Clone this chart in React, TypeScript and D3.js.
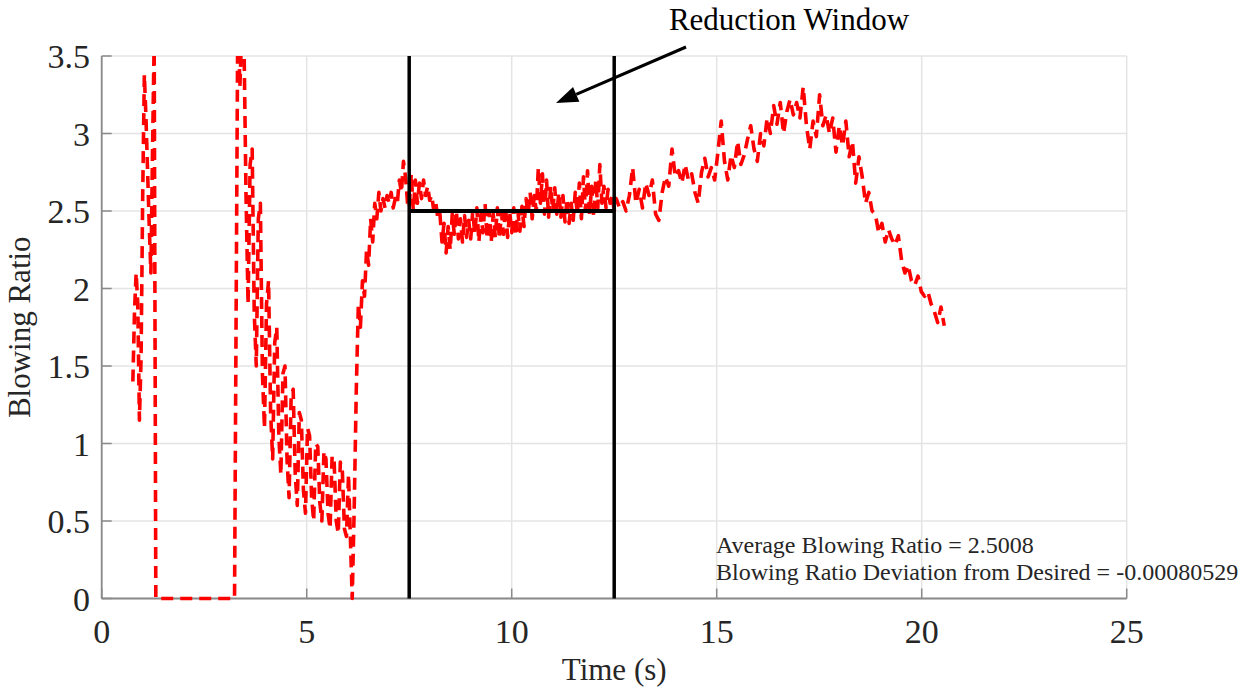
import React from 'react';
import * as d3 from 'd3';

// ---------- data ----------
const X_TICKS = [0, 5, 10, 15, 20, 25];
const Y_TICKS = [0, 0.5, 1, 1.5, 2, 2.5, 3, 3.5];
const Y_TICK_LABELS = ['0', '0.5', '1', '1.5', '2', '2.5', '3', '3.5'];

// segment A: first burst
const A_START = 0.76;
const A_STEP = 0.04;
const A_VALUES = [1.4, 1.85, 2.1, 1.9, 1.15, 1.55, 2.6, 3.38, 3.1, 2.75, 2.4, 2.1, 2.9, 3.6];

// segment Z: blowing off
const Z_START = 1.32;
const Z_STEP = 0.16;
const Z_VALUES = [0, 0, 0, 0, 0, 0, 0, 0, 0, 0, 0, 0, 0];

// segment B: second burst and decay
const B_START = 3.32;
const B_STEP = 0.05;
const B_VALUES = [
  3.8, 3.3, 3.7, 3.6, 2.6, 1.9, 2.8, 2.9, 1.85, 1.5, 2.45, 2.55, 1.45, 1.1, 1.9, 2.05,
  1.2, 0.9, 1.65, 1.75, 1.05, 0.8, 1.45, 1.5, 0.9, 0.65, 1.3, 1.35, 0.8, 0.6, 1.2, 1.15,
  0.7, 0.55, 1.1, 1.05, 0.65, 0.5, 1.0, 0.98, 0.62, 0.5, 0.95, 0.9, 0.55, 0.45, 0.92, 0.88,
  0.5, 0.42, 0.88, 0.82, 0.45, 0.4, 0.8, 0.35,
];

// segment C: recovery
const C_START = 6.11;
const C_STEP = 0.05;
const C_VALUES = [
  0, 0.6, 1.35, 1.9, 1.75, 2.05, 1.95, 2.25, 2.15, 2.45, 2.3, 2.55, 2.45, 2.62, 2.5, 2.58,
  2.52, 2.6, 2.55, 2.62, 2.52, 2.58, 2.55, 2.7, 2.62, 2.82, 2.72, 2.55,
];

// segment D: reduction window
const D_START = 7.5;
const D_STEP = 0.05;
const D_VALUES = [
  2.52, 2.74, 2.5, 2.7, 2.55, 2.68, 2.58, 2.7, 2.6, 2.66, 2.57, 2.6, 2.5, 2.55, 2.45, 2.48,
  2.3, 2.42, 2.23, 2.4, 2.25, 2.48, 2.35, 2.5, 2.32, 2.45, 2.3, 2.47, 2.33, 2.44, 2.32, 2.5,
  2.35, 2.52, 2.3, 2.48, 2.36, 2.55, 2.32, 2.5, 2.3, 2.48, 2.33, 2.52, 2.32, 2.49, 2.35, 2.53,
  2.33, 2.5, 2.36, 2.52, 2.34, 2.5, 2.37, 2.53, 2.4, 2.58, 2.48, 2.62, 2.45, 2.6, 2.5, 2.78,
  2.55, 2.74, 2.48, 2.7, 2.46, 2.66, 2.5, 2.65, 2.48, 2.62, 2.46, 2.6, 2.43, 2.58, 2.42, 2.55,
  2.44, 2.62, 2.48, 2.68, 2.45, 2.72, 2.5, 2.76, 2.48, 2.66, 2.46, 2.7, 2.52, 2.8, 2.55, 2.66,
  2.52, 2.64, 2.55, 2.6, 2.5,
];

// segment E: after the window
const E_START = 12.55;
const E_STEP = 0.08;
const E_VALUES = [
  2.58, 2.52, 2.56, 2.5, 2.6, 2.78, 2.55, 2.64, 2.52, 2.68, 2.6, 2.7, 2.48, 2.44, 2.62, 2.72,
  2.66, 2.9, 2.72, 2.76, 2.68, 2.8, 2.7, 2.74, 2.62, 2.55, 2.75, 2.84, 2.72, 2.78, 2.7, 2.88,
  3.08, 2.82, 2.7, 2.86, 2.78, 2.95, 2.8, 2.86, 2.96, 3.05, 2.9, 2.82, 3.0, 2.92, 3.1, 3.0,
  3.18, 3.06, 3.2, 3.0, 3.14, 3.22, 3.12, 3.2, 3.1, 3.3, 3.05, 2.9, 3.08, 2.98, 3.25, 3.05,
  3.12, 3.0, 3.1, 2.88, 3.05, 2.92, 3.08, 2.85, 2.95, 2.68, 2.85, 2.72, 2.55, 2.62, 2.5, 2.48,
  2.36, 2.42, 2.3, 2.38, 2.32, 2.28, 2.34, 2.18, 2.1, 2.15, 2.05, 2.02, 2.08, 1.98, 1.95, 1.98,
  1.9, 1.85, 1.78, 1.88, 1.76,
];

const WINDOW_START = 7.5;
const WINDOW_END = 12.5;
const DESIRED = 2.5;

const TITLE_TEXT = 'Reduction Window';
const X_LABEL = 'Time (s)';
const Y_LABEL = 'Blowing Ratio';
const NOTE_LINES = ['Average Blowing Ratio = 2.5008', 'Blowing Ratio Deviation from Desired = -0.00080529'];

// ---------- helpers ----------
type Pt = [number, number];
function seg(start: number, step: number, values: number[]): Pt[] {
  return values.map((v, i) => [start + i * step, v] as Pt);
}

const SERIES: Pt[] = [
  ...seg(A_START, A_STEP, A_VALUES),
  ...seg(Z_START, Z_STEP, Z_VALUES),
  ...seg(B_START, B_STEP, B_VALUES),
  ...seg(C_START, C_STEP, C_VALUES),
  ...seg(D_START, D_STEP, D_VALUES),
  ...seg(E_START, E_STEP, E_VALUES),
];

const W = 1247;
const H = 690;
const L = 101.7;
const R = 1126.7;
const T = 56;
const B = 598.5;

const FONT = "'Liberation Serif', 'Times New Roman', serif";
const GRID = '#e4e4e4';
const AXIS = '#8a8a8a';
const TEXT = '#262626';

export default function App() {
  const x = d3.scaleLinear().domain([0, 25]).range([L, R]);
  const y = d3.scaleLinear().domain([0, 3.5]).range([B, T]);
  const line = d3
    .line<Pt>()
    .x((d) => x(d[0]))
    .y((d) => y(d[1]));

  const path = line(SERIES) || '';
  const tail: Pt = [686, 47];
  const tip: Pt = [556, 103];
  const ang = Math.atan2(tip[1] - tail[1], tip[0] - tail[0]);
  const hl = 22;
  const hw = 8;
  const bx = tip[0] - hl * Math.cos(ang);
  const by = tip[1] - hl * Math.sin(ang);
  const head = [
    [tip[0], tip[1]],
    [bx + hw * Math.sin(ang), by - hw * Math.cos(ang)],
    [bx - hw * Math.sin(ang), by + hw * Math.cos(ang)],
  ]
    .map((p) => p.join(','))
    .join(' ');

  return (
    <svg
      width={W}
      height={H}
      viewBox={`0 0 ${W} ${H}`}
      style={{ position: 'absolute', left: 0, top: 0, background: '#fff' }}
    >
      <defs>
        <clipPath id="plotclip">
          <rect x={L - 2} y={T} width={R - L + 4} height={B - T + 3} />
        </clipPath>
      </defs>
      <rect x={0} y={0} width={W} height={H} fill="#fff" />

      {/* grid */}
      {X_TICKS.map((t) => (
        <line key={'gx' + t} x1={x(t)} x2={x(t)} y1={T} y2={B} stroke={GRID} strokeWidth={1.5} />
      ))}
      {Y_TICKS.map((t) => (
        <line key={'gy' + t} x1={L} x2={R} y1={y(t)} y2={y(t)} stroke={GRID} strokeWidth={1.5} />
      ))}

      {/* axes */}
      <line x1={L} x2={R} y1={B} y2={B} stroke={AXIS} strokeWidth={1.8} />
      <line x1={L} x2={L} y1={T} y2={B} stroke={AXIS} strokeWidth={1.8} />
      {X_TICKS.map((t) => (
        <line key={'tx' + t} x1={x(t)} x2={x(t)} y1={B} y2={B - 10} stroke={AXIS} strokeWidth={1.5} />
      ))}
      {Y_TICKS.map((t) => (
        <line key={'ty' + t} x1={L} x2={L + 10} y1={y(t)} y2={y(t)} stroke={AXIS} strokeWidth={1.5} />
      ))}

      {/* data */}
      <g clipPath="url(#plotclip)">
        <path
          d={path}
          fill="none"
          stroke="#ff0000"
          strokeWidth={3.6}
          strokeDasharray="12 7"
          strokeLinejoin="round"
        />
      </g>

      {/* reduction window */}
      <line x1={x(WINDOW_START)} x2={x(WINDOW_START)} y1={T} y2={B} stroke="#000" strokeWidth={3.5} />
      <line x1={x(WINDOW_END)} x2={x(WINDOW_END)} y1={T} y2={B} stroke="#000" strokeWidth={3.5} />
      <line
        x1={x(WINDOW_START)}
        x2={x(WINDOW_END)}
        y1={y(DESIRED)}
        y2={y(DESIRED)}
        stroke="#000"
        strokeWidth={4}
      />

      {/* tick labels */}
      {X_TICKS.map((t) => (
        <text
          key={'lx' + t}
          x={x(t)}
          y={643}
          textAnchor="middle"
          fontFamily={FONT}
          fontSize={34}
          fill={TEXT}
        >
          {t}
        </text>
      ))}
      {Y_TICKS.map((t, i) => (
        <text
          key={'ly' + t}
          x={90}
          y={y(t) + 12}
          textAnchor="end"
          fontFamily={FONT}
          fontSize={34}
          fill={TEXT}
        >
          {Y_TICK_LABELS[i]}
        </text>
      ))}

      {/* axis labels */}
      <text x={(L + R) / 2} y={680} textAnchor="middle" fontFamily={FONT} fontSize={31} fill={TEXT}>
        {X_LABEL}
      </text>
      <text
        transform={`translate(30, ${(T + B) / 2}) rotate(-90)`}
        textAnchor="middle"
        fontFamily={FONT}
        fontSize={31}
        fill={TEXT}
      >
        {Y_LABEL}
      </text>

      {/* notes */}
      {NOTE_LINES.map((s, i) => (
        <text key={'n' + i} x={716} y={553 + i * 27} fontFamily={FONT} fontSize={24} fill={TEXT}>
          {s}
        </text>
      ))}

      {/* annotation */}
      <text x={789} y={30} textAnchor="middle" fontFamily={FONT} fontSize={31} fill="#000">
        {TITLE_TEXT}
      </text>
      <line x1={tail[0]} y1={tail[1]} x2={bx} y2={by} stroke="#000" strokeWidth={3} />
      <polygon points={head} fill="#000" />
    </svg>
  );
}
